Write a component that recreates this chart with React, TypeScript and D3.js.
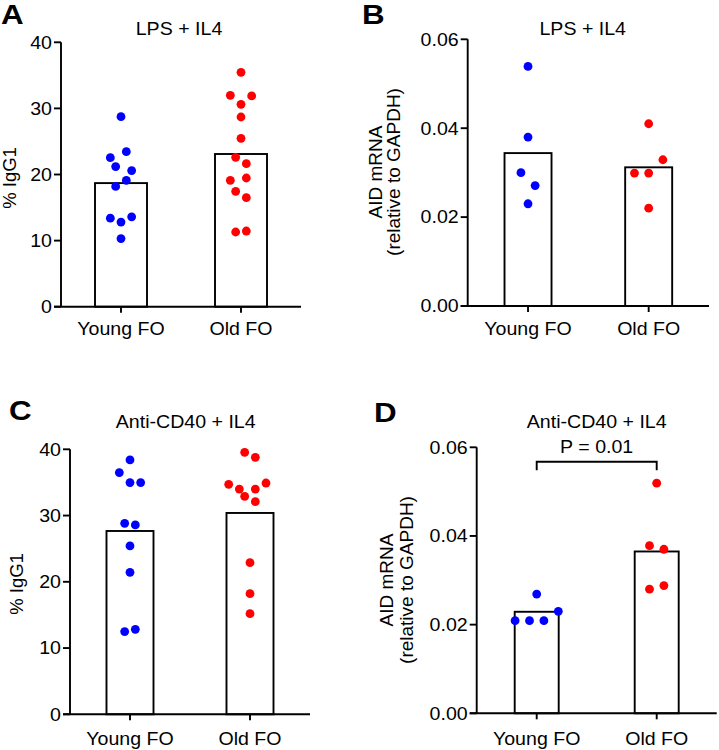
import React from "react";
import * as d3 from "d3";

// ---------- data ----------
const categories = ["Young FO", "Old FO"];

const titleAB = "LPS + IL4";
const titleCD = "Anti-CD40 + IL4";

const ticksIgG = [0, 10, 20, 30, 40];
const ticksAID = [0, 0.02, 0.04, 0.06];

// Panel A: % IgG1, LPS + IL4
const aYoung = [28.75, 23.45, 22.55, 21.2, 20.6, 19.1, 18.2, 13.4, 13.6, 12.8, 10.3];
const aYoungSlot = [0, 1, -2, -1, 2, 1, -1, -2, 2, 0, 0];
const aOld = [35.46, 31.98, 31.88, 30.62, 28.7, 25.47, 22.6, 21.64, 19.12, 19.47, 17.45, 16.49, 11.3, 11.45];
const aOldSlot = [0, -2, 2, 0, 0, 0, -1, 1, -2, 1, -1, 1, -1, 1];
const aMeans = [18.7, 23.1];

// Panel B: AID mRNA, LPS + IL4
const bYoung = [0.0539, 0.038, 0.03, 0.0271, 0.023];
const bYoungSlot = [0, 0, -1, 1, 0];
const bOld = [0.041, 0.0329, 0.0299, 0.0299, 0.022];
const bOldSlot = [0, 2, -2, 0, 0];
const bMeans = [0.0344, 0.0312];

// Panel C: % IgG1, Anti-CD40 + IL4
const cYoung = [38.39, 36.48, 34.97, 34.97, 28.83, 28.58, 25.41, 21.43, 12.48, 12.83];
const cYoungSlot = [0, -2, 0, 2, -1, 1, 0, 0, -1, 1];
const cOld = [39.55, 38.79, 34.72, 34.0, 34.0, 34.91, 32.9, 32.09, 22.89, 18.21, 15.19];
const cOldSlot = [-1, 1, -4, -2, 1, 3, -1, 1, 0, 0, 0];
const cMeans = [27.67, 30.39];

// Panel D: AID mRNA, Anti-CD40 + IL4
const dYoung = [0.0269, 0.023, 0.0209, 0.0209, 0.0209];
const dYoungSlot = [0, 3, -3, -1, 1];
const dOld = [0.0519, 0.0378, 0.037, 0.028, 0.0288];
const dOldSlot = [0, -1, 1, -1, 1];
const dMeans = [0.0229, 0.0365];

const pLabel = "P = 0.01";

// ---------- styles ----------
const FONT = "'Liberation Sans', Arial, Helvetica, sans-serif";
const BLUE = "#0000ff";
const RED = "#ff0000";
const SX = 1.12;
const FS = 17.5;

type TProps = {
  x: number;
  y: number;
  size: number;
  anchor?: string;
  weight?: string | number;
  rotate?: boolean;
  sx?: number;
  children: React.ReactNode;
};

function T({ x, y, size, anchor = "middle", weight = "normal", rotate = false, sx = SX, children }: TProps) {
  const tf = `translate(${x},${y})` + (rotate ? " rotate(-90)" : ` scale(${sx},1)`);
  return (
    <text transform={tf} fontSize={size} fontWeight={weight} textAnchor={anchor} fontFamily={FONT} fill="#000">
      {children}
    </text>
  );
}

type PanelCfg = {
  letter: string;
  letterX: number;
  letterY: number;
  title: string;
  titleX: number;
  titleY: number;
  axisX: number;
  yTop: number;
  yBottom: number;
  xEnd: number;
  domainMax: number;
  ticks: number[];
  fmt: (v: number) => string;
  barW: number;
  step: number;
  groups: { values: number[]; slots: number[]; color: string }[];
  means: number[];
  yLabels: { text: string; x: number; size: number }[];
  yLabelY: number;
  catY: number;
  sig?: { label: string; y: number; drop: number; textY: number };
};

function Panel({ cfg }: { cfg: PanelCfg }) {
  const y = d3.scaleLinear().domain([0, cfg.domainMax]).range([cfg.yBottom, cfg.yTop]);
  const x = d3.scalePoint<string>().domain(categories).range([cfg.axisX, cfg.xEnd]).padding(0.5);
  const tickLen = 7;
  const sw = 1.9;
  return (
    <g>
      <T x={cfg.letterX} y={cfg.letterY} size={28} weight="bold" anchor="start" sx={1.12}>
        {cfg.letter}
      </T>
      <T x={cfg.titleX} y={cfg.titleY} size={FS}>
        {cfg.title}
      </T>
      {/* bars */}
      {categories.map((c, i) => (
        <rect
          key={c}
          x={(x(c) as number) - cfg.barW / 2}
          y={y(cfg.means[i])}
          width={cfg.barW}
          height={cfg.yBottom - y(cfg.means[i])}
          fill="#fff"
          stroke="#000"
          strokeWidth={sw}
        />
      ))}
      {/* axes */}
      <line x1={cfg.axisX} x2={cfg.axisX} y1={cfg.yTop} y2={cfg.yBottom} stroke="#000" strokeWidth={sw} />
      <line x1={cfg.axisX - tickLen} x2={cfg.xEnd} y1={cfg.yBottom} y2={cfg.yBottom} stroke="#000" strokeWidth={sw} />
      {cfg.ticks.map((t) => (
        <g key={t}>
          <line x1={cfg.axisX - tickLen} x2={cfg.axisX} y1={y(t)} y2={y(t)} stroke="#000" strokeWidth={sw} />
          <T x={cfg.axisX - tickLen - 2} y={y(t) + 6.3} size={FS} anchor="end">
            {cfg.fmt(t)}
          </T>
        </g>
      ))}
      {categories.map((c) => (
        <g key={c}>
          <line x1={x(c)} x2={x(c)} y1={cfg.yBottom} y2={cfg.yBottom + 6} stroke="#000" strokeWidth={sw} />
          <T x={x(c) as number} y={cfg.catY} size={FS}>
            {c}
          </T>
        </g>
      ))}
      {cfg.yLabels.map((l) => (
        <T key={l.text} x={l.x} y={cfg.yLabelY} size={l.size} rotate>
          {l.text}
        </T>
      ))}
      {/* dots */}
      {cfg.groups.map((g, gi) =>
        g.values.map((v, i) => (
          <circle
            key={gi + "-" + i}
            cx={(x(categories[gi]) as number) + g.slots[i] * cfg.step}
            cy={y(v)}
            r={4.4}
            fill={g.color}
          />
        ))
      )}
      {cfg.sig && (
        <g>
          <path
            d={`M${x(categories[0])},${cfg.sig.y + cfg.sig.drop}V${cfg.sig.y}H${x(categories[1])}V${cfg.sig.y + cfg.sig.drop}`}
            fill="none"
            stroke="#000"
            strokeWidth={sw}
          />
          <T x={((x(categories[0]) as number) + (x(categories[1]) as number)) / 2} y={cfg.sig.textY} size={FS}>
            {cfg.sig.label}
          </T>
        </g>
      )}
    </g>
  );
}

const fmtInt = d3.format("d");
const fmt2 = d3.format(".2f");

const panels: PanelCfg[] = [
  {
    letter: "A", letterX: 1, letterY: 24, title: titleAB, titleX: 179, titleY: 35,
    axisX: 61, yTop: 42.3, yBottom: 306.7, xEnd: 301, domainMax: 40, ticks: ticksIgG, fmt: fmtInt,
    barW: 52, step: 5.33,
    groups: [
      { values: aYoung, slots: aYoungSlot, color: BLUE },
      { values: aOld, slots: aOldSlot, color: RED },
    ],
    means: aMeans,
    yLabels: [{ text: "% IgG1", x: 16, size: 18.5 }],
    yLabelY: 178, catY: 334.5,
  },
  {
    letter: "B", letterX: 362, letterY: 24, title: titleAB, titleX: 582.7, titleY: 35,
    axisX: 467.7, yTop: 39.3, yBottom: 306, xEnd: 709, domainMax: 0.06, ticks: ticksAID, fmt: fmt2,
    barW: 47, step: 7.1,
    groups: [
      { values: bYoung, slots: bYoungSlot, color: BLUE },
      { values: bOld, slots: bOldSlot, color: RED },
    ],
    means: bMeans,
    yLabels: [
      { text: "AID mRNA", x: 381.5, size: 19 },
      { text: "(relative to GAPDH)", x: 399.5, size: 19 },
    ],
    yLabelY: 172, catY: 335,
  },
  {
    letter: "C", letterX: 9, letterY: 420, title: titleCD, titleX: 185.7, titleY: 428.3,
    axisX: 70, yTop: 449.3, yBottom: 714.3, xEnd: 310, domainMax: 40, ticks: ticksIgG, fmt: fmtInt,
    barW: 47, step: 5.33,
    groups: [
      { values: cYoung, slots: cYoungSlot, color: BLUE },
      { values: cOld, slots: cOldSlot, color: RED },
    ],
    means: cMeans,
    yLabels: [{ text: "% IgG1", x: 23, size: 18.5 }],
    yLabelY: 584, catY: 744.5,
  },
  {
    letter: "D", letterX: 374, letterY: 421.7, title: titleCD, titleX: 596.7, titleY: 428.3,
    axisX: 476.7, yTop: 447.3, yBottom: 713.3, xEnd: 716.7, domainMax: 0.06, ticks: ticksAID, fmt: fmt2,
    barW: 44, step: 7.2,
    groups: [
      { values: dYoung, slots: dYoungSlot, color: BLUE },
      { values: dOld, slots: dOldSlot, color: RED },
    ],
    means: dMeans,
    yLabels: [
      { text: "AID mRNA", x: 392.5, size: 19 },
      { text: "(relative to GAPDH)", x: 412.5, size: 19 },
    ],
    yLabelY: 580, catY: 745,
    sig: { label: pLabel, y: 461.7, drop: 8.5, textY: 453.3 },
  },
];

export default function App() {
  return (
    <svg width={719} height={750} style={{ position: "absolute", left: 0, top: 0, background: "#fff" }}>
      <rect width={719} height={750} fill="#fff" />
      {panels.map((p) => (
        <Panel key={p.letter} cfg={p} />
      ))}
    </svg>
  );
}
